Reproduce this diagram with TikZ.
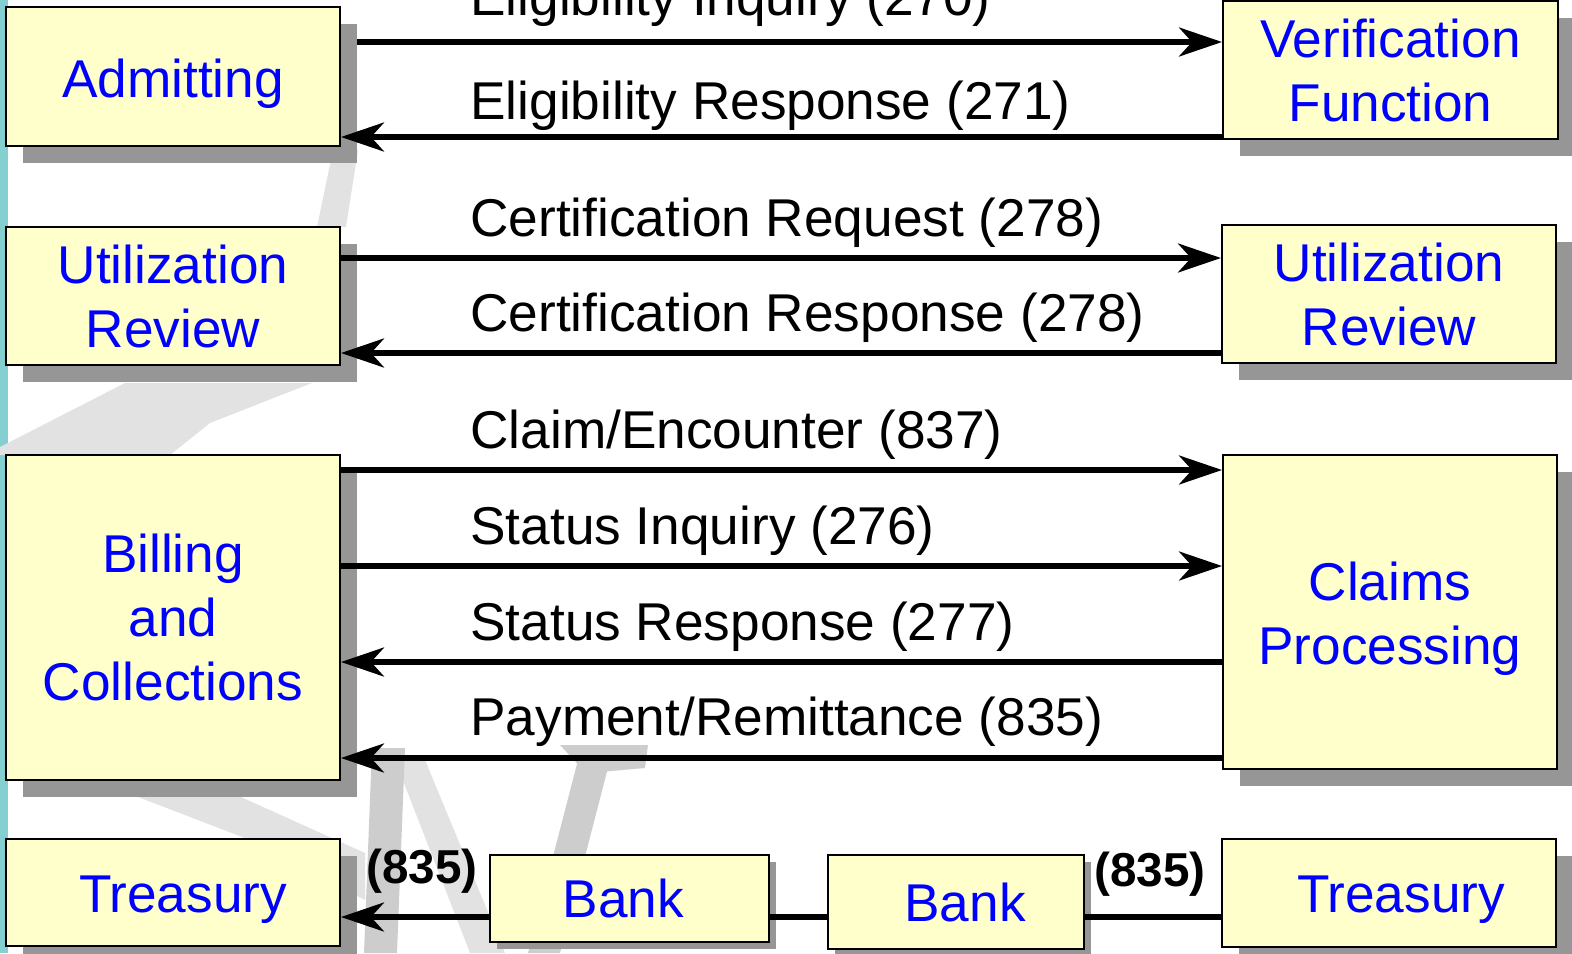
\documentclass[tikz,border=0pt]{standalone}
\usepackage{fontspec}
\setmainfont{Liberation Sans}
\usetikzlibrary{arrows.meta,shadows}
\definecolor{boxfill}{HTML}{FFFFCC}
\definecolor{boxtext}{HTML}{0000FF}
\definecolor{shgray}{HTML}{969696}
\definecolor{tealstrip}{HTML}{84CFCF}
\definecolor{wmlight}{HTML}{E2E2E2}
\definecolor{wmdark}{HTML}{CDCDCD}
\newcommand{\dnshift}[1]{\raisebox{-3.5pt}[\height][\depth]{#1}}
\pgfdeclarelayer{bg}
\pgfsetlayers{bg,main}
\tikzset{
  boxbase/.style={draw=black, line width=1pt, fill=boxfill, text=boxtext, align=center,
    inner sep=0pt, font=\fontsize{26.6}{32}\selectfont},
  box/.style={boxbase, drop shadow={shadow xshift=8.25pt, shadow yshift=-8.25pt, fill=shgray, opacity=1}},
  smallbox/.style={boxbase, drop shadow={shadow xshift=3.25pt, shadow yshift=-3.25pt, fill=shgray, opacity=1}},
  lbl/.style={anchor=base west, inner sep=0pt, font=\fontsize{26.6}{32}\selectfont},
  num/.style={anchor=base west, inner sep=0pt, font=\bfseries\fontsize{23.8}{28}\selectfont},
  link/.style={line width=2.6pt},
  msg/.style={link, -{Stealth[length=21.5pt,width=14.5pt,inset=6.5pt]}},
}
\begin{document}
\begin{tikzpicture}[x=0.5pt,y=-0.5pt]
\useasboundingbox (0,0) rectangle (1572,953);
\clip (0,0) rectangle (1572,953);

% named y levels of the connectors
\coordinate (y1) at (0,42);
\coordinate (y2) at (0,137);
\coordinate (y3) at (0,258);
\coordinate (y4) at (0,353);
\coordinate (y5) at (0,470);
\coordinate (y6) at (0,566);
\coordinate (y7) at (0,662);
\coordinate (y8) at (0,758);
\coordinate (yb) at (0,917);

% boxes
\node[box, minimum width=167pt, minimum height=69.5pt] (adm) at (173,76.5) {\dnshift{Admitting}};
\node[box, minimum width=167.5pt, minimum height=69pt] (ver) at (1390.5,70) {Verification\\Function};
\node[box, minimum width=167pt, minimum height=69pt] (utl) at (173,296) {Utilization\\Review};
\node[box, minimum width=167pt, minimum height=69pt] (utr) at (1389,294) {Utilization\\Review};
\node[box, minimum width=167pt, minimum height=162.5pt] (bil) at (173,617.5) {Billing\\and\\Collections};
\node[box, minimum width=167pt, minimum height=157pt] (clm) at (1390,612) {\dnshift{Claims}\\\dnshift{Processing}};
\node[box, minimum width=167pt, minimum height=53.5pt] (trl) at (173,892.5) {\hspace*{10pt}\dnshift{Treasury}};
\node[smallbox, minimum width=139.5pt, minimum height=43.5pt] (bk1) at (629.5,898.5) {Bank\hspace*{6pt}};
\node[smallbox, minimum width=128pt, minimum height=47pt] (bk2) at (956,902) {\hspace*{9pt}Bank};
\node[box, minimum width=167pt, minimum height=54pt] (trr) at (1389,893) {\hspace*{12pt}\dnshift{Treasury}};

% background: strip, watermark, line hidden by shadow
\begin{pgfonlayer}{bg}
\fill[tealstrip] (0,0) rectangle (8,953);
\fill[wmlight] (333,150) -- (358,150) -- (346,227) -- (317,227) -- cycle;
\fill[wmlight] (125,383) -- (312,383) -- (210,423) -- (170,455) -- (0,455) -- (0,447) -- cycle;
\fill[wmlight] (138,797) -- (241,797) -- (365,853) -- (365,900) -- (250,840) -- cycle;
\fill[wmlight] (395,760) -- (425,760) -- (505,953) -- (470,953) -- cycle;
\fill[wmdark] (372,748) -- (405,748) -- (397,953) -- (364,953) -- cycle;
\fill[wmdark] (578,760) -- (610,760) -- (560,953) -- (528,953) -- cycle;
\fill[wmdark] (560,745) -- (648,745) -- (645,768) -- (600,772) -- (585,772) -- cycle;
\draw[msg] (adm.east |- y1) -- (ver.west |- y1);
\end{pgfonlayer}

% connectors
\draw[msg] (ver.west |- y2) -- (adm.east |- y2);
\draw[msg] (utl.east |- y3) -- (utr.west |- y3);
\draw[msg] (utr.west |- y4) -- (utl.east |- y4);
\draw[msg] (bil.east |- y5) -- (clm.west |- y5);
\draw[msg] (bil.east |- y6) -- (clm.west |- y6);
\draw[msg] (clm.west |- y7) -- (bil.east |- y7);
\draw[msg] (clm.west |- y8) -- (bil.east |- y8);
\draw[msg] (bk1.west |- yb) -- (trl.east |- yb);
\draw[link] (bk1.east |- yb) -- (bk2.west |- yb);
\draw[link] (bk2.east |- yb) -- (trr.west |- yb);

% labels
\node[lbl] (t1) at (470,16) {Eligibility Inquiry (270)};
\node[lbl] (t2) at (470,119) {Eligibility Response (271)};
\node[lbl] (t3) at (470,236) {Certification Request (278)};
\node[lbl] (t4) at (470,331) {Certification Response (278)};
\node[lbl] (t5) at (470,448) {Claim/Encounter (837)};
\node[lbl] (t6) at (470,544) {Status Inquiry (276)};
\node[lbl] (t7) at (470,640) {Status Response (277)};
\node[lbl] (t8) at (470,735) {Payment/Remittance (835)};
\node[num] (n1) at (366,883) {(835)};
\node[num] (n2) at (1094,886) {(835)};
\end{tikzpicture}
\end{document}
